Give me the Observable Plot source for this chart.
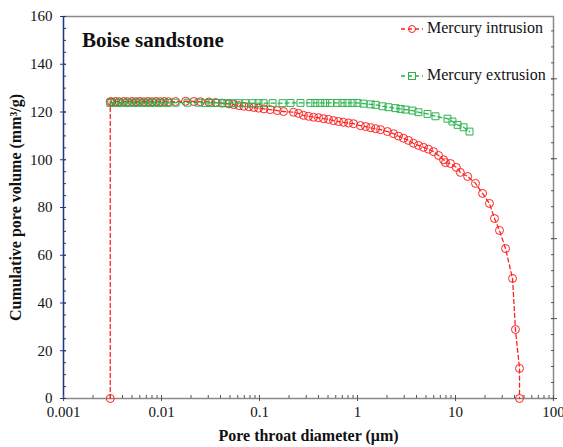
<!DOCTYPE html>
<html><head><meta charset="utf-8">
<script src="https://cdn.jsdelivr.net/npm/d3@7"></script>
<script src="https://cdn.jsdelivr.net/npm/@observablehq/plot@0.6"></script>
<style>
body{margin:0;background:#fff;}
#wrap{position:relative;width:563px;height:447px;font-family:"Liberation Serif","Times New Roman",serif;color:#111;}
#title{position:absolute;left:82px;top:30px;font-weight:bold;font-size:21px;line-height:21px;white-space:nowrap;}
.leg{position:absolute;font-size:16px;line-height:16px;white-space:nowrap;}
.sym{position:absolute;}
#wrap svg text{font-family:"Liberation Serif","Times New Roman",serif;}
svg [aria-label="x-axis label"], svg [aria-label="y-axis label"]{font-weight:bold;font-size:16px;}
</style></head><body><div id="wrap"></div>
<script>
// ---- data ----
const intrusionDiameter = [0.003,0.003,0.0031,0.0034,0.0037,0.0041,0.0045,0.005,0.0055,0.006,0.0066,0.0073,0.008,0.0088,0.0097,0.0107,0.0118,
  0.0139,0.0176,0.0214,0.025,0.0304,0.0356,0.0416,0.0487,0.0547,0.0615,0.0692,0.0778,0.0875,0.098,0.111,0.129,0.152,0.176,
  0.222,0.25,0.281,0.316,0.356,0.40,0.45,0.506,0.569,0.64,0.72,0.81,0.91,1.07,1.21,1.36,1.53,1.72,2.02,2.33,2.62,2.95,3.31,
  3.72,4.19,4.71,5.30,5.97,6.71,7.55,7.9,8.9,10.2,11.2,13.3,16.0,18.9,22.2,25.0,28.1,32.4,38.2,40.9,45,45];
const intrusionVolume = [0,124.3,124.3,124.4,124.3,124.4,124.3,124.4,124.3,124.4,124.3,124.4,124.3,124.4,124.3,124.4,124.3,
  124.4,124.5,124.4,124.3,124.2,124.0,123.7,123.4,123.1,122.7,122.4,122.2,121.9,121.6,121.3,121.0,120.6,120.2,
  119.9,119.4,118.6,118.2,117.8,117.6,117.2,116.9,116.4,116.0,115.7,115.4,115.1,114.3,113.9,113.4,113.0,112.6,111.8,110.9,109.9,109.0,108.1,
  106.9,106.0,105.2,104.4,103.4,101.8,100.0,98.8,98.4,96.8,94.7,93.0,90.1,85.9,81.7,75.4,70.4,62.8,50.3,28.9,12.6,0];

const extrusionDiameter = [0.003,0.0033,0.0036,0.004,0.0044,0.0048,0.0053,0.0058,0.0064,0.007,0.0077,0.0085,0.0094,0.0104,0.0115,
  0.0139,0.0184,0.0239,0.0281,0.0316,0.0373,0.0419,0.0471,0.053,0.0611,0.072,0.0849,0.0977,0.110,0.136,0.172,0.207,
  0.262,0.331,0.371,0.417,0.468,0.525,0.625,0.703,0.791,0.889,1.0,1.15,1.36,1.53,1.80,2.07,2.44,2.75,3.09,3.64,4.19,
  5.18,6.25,8.28,9.31,10.5,12.1,13.9];
const extrusionVolume = [123.8,123.9,123.8,123.9,123.8,123.9,123.8,123.9,123.8,123.9,123.8,123.9,123.8,123.9,123.8,
  123.9,123.9,123.9,123.8,123.8,123.8,123.7,123.7,123.7,123.7,123.7,123.7,123.7,123.7,123.7,123.7,123.8,
  123.8,123.8,123.8,123.8,123.8,123.8,123.8,123.8,123.8,123.8,123.8,123.5,123.2,123.0,122.4,122.0,121.6,121.3,121.0,120.6,119.9,
  119.2,118.2,117.2,116.0,114.6,113.6,111.8];

const xTickValues = [0.001,0.01,0.1,1,10,100];
const xTickLabels = ["0.001","0.01","0.1","1","10","100"];
const xMinorTicks = [2,3,4,5,6,7,8,9].flatMap(m => [0.001,0.01,0.1,1,10].map(p => m*p));
const yTickValues = [0,20,40,60,80,100,120,140,160];
const yTickLabels = ["0","20","40","60","80","100","120","140","160"];
const yMinorTicks = d3.range(0,161,5);
// right-hand (unlabelled) axis: secondary scale 0..2.39, minor 0.1, major 0.5
const rightMax = 2.39;
const rightMinor = d3.range(0, 2.39, 0.1);
const rightMajor = [0,0.5,1,1.5,2];

const seriesNames = ["Mercury intrusion","Mercury extrusion"];
const red = "#ff2020", green = "#2db34e", navy = "#1c3a8c", gray = "#8a8a8a";

const intrusion = intrusionDiameter.map((d,i)=>({d, v:intrusionVolume[i]}));
const extrusion = extrusionDiameter.map((d,i)=>({d, v:extrusionVolume[i]}));
const toY = v => v*160/rightMax;

const plot = Plot.plot({
  width:563, height:447, marginLeft:63, marginRight:10, marginTop:16, marginBottom:49,
  style:{fontFamily:'"Liberation Serif","Times New Roman",serif', fontSize:"15px", color:"#111", background:"white"},
  x:{type:"log", domain:[0.001,100]},
  y:{domain:[0,160]},
  marks:[
    Plot.frame({stroke:gray, strokeWidth:1.5}),
    Plot.ruleX([0.001],{stroke:navy, strokeWidth:1.3}),
    // x axis
    Plot.axisX(xTickValues,{tickSize:0, tickPadding:8, tickFormat:d=>xTickLabels[xTickValues.indexOf(d)],
      label:"Pore throat diameter (μm)", labelAnchor:"center", labelOffset:42, labelArrow:"none"}),
    Plot.axisX(xTickValues,{tickSize:6, dy:-3, fill:"none", stroke:"#555", label:null}),
    Plot.axisX(xMinorTicks,{tickSize:3, dy:-3, fill:"none", stroke:"#555", label:null}),
    // left y axis
    Plot.axisY(yTickValues,{tickSize:0, tickPadding:11, tickFormat:d=>yTickLabels[yTickValues.indexOf(d)],
      label:"Cumulative pore volume (mm³/g)", labelAnchor:"center", labelOffset:54, labelArrow:"none"}),
    Plot.axisY(yTickValues,{tickSize:6, dx:3, fill:"none", stroke:navy, label:null}),
    Plot.axisY(yMinorTicks,{tickSize:3, dx:3, fill:"none", stroke:navy, label:null}),
    // right axis ticks
    Plot.axisY(rightMajor.map(toY),{anchor:"right", tickSize:6, dx:-3, fill:"none", stroke:"#555", label:null}),
    Plot.axisY(rightMinor.map(toY),{anchor:"right", tickSize:3, dx:-3, fill:"none", stroke:"#555", label:null}),
    // series
    Plot.line(intrusion,{x:"d", y:"v", stroke:red, strokeWidth:1.3, strokeDasharray:"4,3"}),
    Plot.dot(intrusion,{x:"d", y:"v", r:4, stroke:red, fill:"none", strokeWidth:1}),
    Plot.line(extrusion,{x:"d", y:"v", stroke:green, strokeWidth:1.3, strokeDasharray:"4,3"}),
    Plot.dot(extrusion,{x:"d", y:"v", symbol:"square", r:3.9, stroke:green, fill:"none", strokeWidth:1})
  ]
});

const wrap = document.getElementById("wrap");
wrap.appendChild(plot);

const title = document.createElement("div");
title.id = "title"; title.textContent = "Boise sandstone";
wrap.appendChild(title);

function legendItem(name, color, shape, cy){
  const s = document.createElementNS("http://www.w3.org/2000/svg","svg");
  s.setAttribute("width","24"); s.setAttribute("height","12");
  s.setAttribute("class","sym");
  s.style.left = "400px"; s.style.top = (cy-6)+"px";
  const ln = document.createElementNS(s.namespaceURI,"line");
  ln.setAttribute("x1","1"); ln.setAttribute("x2","23"); ln.setAttribute("y1","6"); ln.setAttribute("y2","6");
  ln.setAttribute("stroke",color); ln.setAttribute("stroke-width","1.3"); ln.setAttribute("stroke-dasharray","4,3");
  s.appendChild(ln);
  let m;
  if (shape==="circle"){ m = document.createElementNS(s.namespaceURI,"circle"); m.setAttribute("cx","12"); m.setAttribute("cy","6"); m.setAttribute("r","3.5"); }
  else { m = document.createElementNS(s.namespaceURI,"rect"); m.setAttribute("x","8.5"); m.setAttribute("y","2.5"); m.setAttribute("width","7"); m.setAttribute("height","7"); }
  m.setAttribute("fill","none"); m.setAttribute("stroke",color);
  s.appendChild(m);
  wrap.appendChild(s);
  const t = document.createElement("div");
  t.className = "leg"; t.textContent = name;
  t.style.left = "427px"; t.style.top = (cy-9.5)+"px";
  wrap.appendChild(t);
}
legendItem(seriesNames[0], red, "circle", 29);
legendItem(seriesNames[1], green, "square", 76);
</script></body></html>
